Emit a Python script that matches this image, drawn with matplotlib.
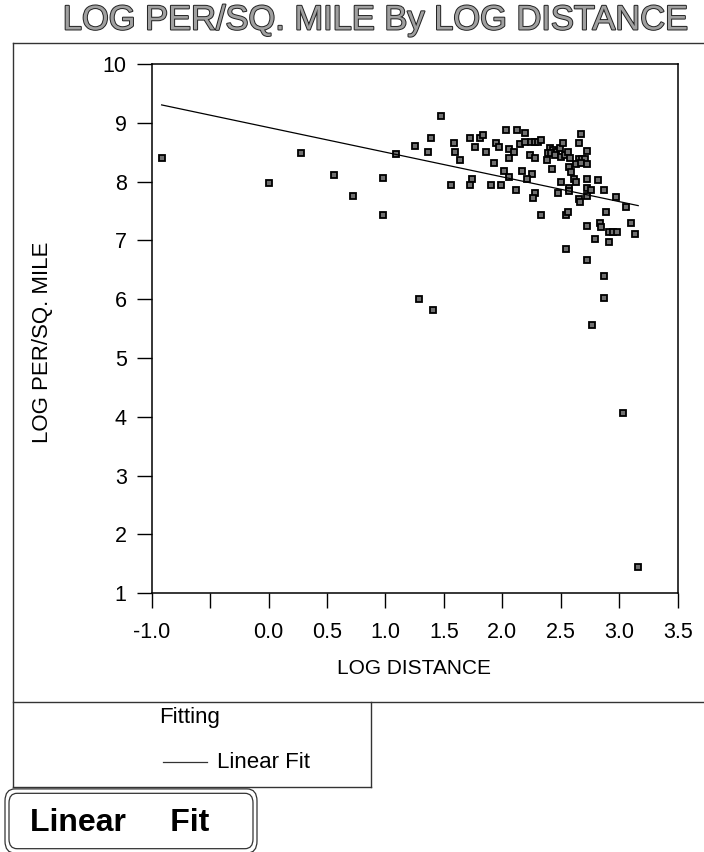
import matplotlib
matplotlib.use("Agg")
import matplotlib.pyplot as plt
import numpy as np
from matplotlib.lines import Line2D
from matplotlib.patches import FancyBboxPatch
import matplotlib.patheffects as pe

plt.rcParams['font.family'] = ['Liberation Sans', 'DejaVu Sans']

# ---------------- data ----------------
log_distance = [
    -0.915, 0.276, 0.005, 0.561, 0.718, 0.977, 0.977, 1.088, 1.250, 1.287,
    1.479, 1.387, 1.364, 1.586, 1.592, 1.635, 1.720, 1.806, 1.834, 1.769,
    1.857, 1.928, 1.949, 1.971, 2.034, 2.125, 2.191, 2.148, 2.191, 2.056,
    2.097, 2.056, 2.248, 2.276, 2.304, 2.333, 2.239, 2.282, 2.381, 2.404,
    2.433, 2.462, 2.490, 2.518, 2.390, 2.419, 2.447, 2.504, 2.538, 2.561,
    2.581, 2.675, 2.655, 2.726, 2.655, 2.684, 2.703, 2.626, 2.675, 2.723,
    2.567, 2.590, 2.427, 2.011, 2.056, 2.168, 2.256, 2.214, 1.744, 1.721,
    1.564, 1.900, 1.991, 2.120, 2.282, 2.262, 2.475, 2.504, 2.567, 2.567,
    2.609, 2.632, 2.723, 2.817, 2.723, 2.761, 2.723, 2.655, 2.661, 2.866,
    2.974, 3.060, 2.333, 2.547, 2.561, 2.889, 2.723, 2.832, 2.840, 2.909,
    2.945, 2.979, 3.103, 3.131, 2.795, 2.909, 2.541, 2.723, 2.866, 2.866,
    2.766, 1.407, 3.031, 3.162,
]
log_per_sq_mile = [
    8.41, 8.49, 7.98, 8.12, 7.75, 8.06, 7.43, 8.47, 8.61, 6.00,
    9.11, 8.74, 8.51, 8.66, 8.51, 8.37, 8.74, 8.74, 8.79, 8.59,
    8.51, 8.32, 8.65, 8.59, 8.87, 8.87, 8.82, 8.64, 8.68, 8.55,
    8.50, 8.41, 8.68, 8.68, 8.68, 8.71, 8.45, 8.40, 8.36, 8.58,
    8.54, 8.51, 8.57, 8.66, 8.49, 8.48, 8.45, 8.42, 8.45, 8.51,
    8.40, 8.81, 8.66, 8.52, 8.38, 8.38, 8.38, 8.30, 8.31, 8.30,
    8.25, 8.17, 8.21, 8.18, 8.08, 8.18, 8.13, 8.04, 8.04, 7.95,
    7.95, 7.95, 7.95, 7.86, 7.81, 7.73, 7.80, 7.99, 7.90, 7.84,
    8.04, 7.99, 8.04, 8.03, 7.89, 7.86, 7.76, 7.70, 7.66, 7.85,
    7.74, 7.57, 7.44, 7.44, 7.48, 7.48, 7.25, 7.29, 7.22, 7.15,
    7.15, 7.15, 7.29, 7.11, 7.02, 6.98, 6.85, 6.67, 6.39, 6.02,
    5.56, 5.82, 4.06, 1.44,
]
fit_intercept = 8.92
fit_slope = -0.42

xticks = [-1.0, -0.5, 0.0, 0.5, 1.0, 1.5, 2.0, 2.5, 3.0, 3.5]
xtick_labels = ['-1.0', '', '0.0', '0.5', '1.0', '1.5', '2.0', '2.5', '3.0', '3.5']
yticks = [1, 2, 3, 4, 5, 6, 7, 8, 9, 10]
ytick_labels = ['1', '2', '3', '4', '5', '6', '7', '8', '9', '10']

title = 'LOG PER/SQ. MILE By LOG DISTANCE'
xlabel = 'LOG DISTANCE'
ylabel = 'LOG PER/SQ. MILE'
legend_title = 'Fitting'
legend_entry = 'Linear Fit'
button_text = 'Linear     Fit'

# ---------------- layout ----------------
W, H = 704, 852
fig = plt.figure(figsize=(W / 100, H / 100), dpi=100)
fig.patch.set_facecolor('white')

def fx(px):
    return px / W

def fy(py):
    return 1 - py / H

ax = fig.add_axes([fx(151.7), fy(593.3), (677.7 - 151.7) / W, (593.3 - 64) / H])
ax.set_xlim(-1.0, 3.5)
ax.set_ylim(1, 10)

ax.plot(log_distance, log_per_sq_mile, linestyle='none', marker='s',
        markersize=4.0, markerfacecolor='#707070', markeredgecolor='black',
        markeredgewidth=1.3)

x_fit = np.array([min(log_distance), max(log_distance)])
ax.plot(x_fit, fit_intercept + fit_slope * x_fit, color='black', linewidth=0.9)

ax.set_xticks(xticks)
ax.set_xticklabels(xtick_labels)
ax.set_yticks(yticks)
ax.set_yticklabels(ytick_labels)
ax.tick_params(axis='both', direction='out', length=11, width=1.0,
               labelsize=15.5, colors='black')
ax.tick_params(axis='x', pad=10)
ax.tick_params(axis='y', pad=7)
for s in ax.spines.values():
    s.set_linewidth(1.1)
    s.set_color('black')

# axis labels
fig.text(fx(414), fy(668), xlabel, ha='center', va='center', fontsize=15)
fig.text(fx(43), fy(342), ylabel, ha='center', va='center', fontsize=16,
         rotation=90)

# title
t = fig.text(fx(376), fy(21), title, ha='center', va='center', fontsize=24.8,
             color='#a0a0a0')
t.set_path_effects([pe.Stroke(linewidth=1.4, foreground='#222222'), pe.Normal()])

# frame lines
lc = '#333333'
def fline(xs, ys, lw=1.0):
    fig.add_artist(Line2D([fx(v) for v in xs], [fy(v) for v in ys],
                          transform=fig.transFigure, color=lc, linewidth=lw))

fline([12.7, 704], [42.5, 42.5])
fline([12.7, 12.7], [42.5, 786.7])
fline([12.7, 704], [701.5, 701.5])
fline([371, 371], [701.5, 786.7])
fline([12.7, 371], [786.7, 786.7])

# legend contents
fig.text(fx(190), fy(718), legend_title, ha='center', va='center', fontsize=16)
fline([163, 207], [762, 762], lw=0.9)
fig.text(fx(217), fy(762), legend_entry, ha='left', va='center', fontsize=16)

# button box
for (x0, y0, x1, y1, r) in [(5, 791, 257, 851, 10), (9, 795, 253, 847, 8)]:
    box = FancyBboxPatch((fx(x0 + r), fy(y1 - r)), fx(x1 - x0 - 2 * r), (y1 - y0 - 2 * r) / H,
                         boxstyle=f'round,pad={r / W}', transform=fig.transFigure,
                         facecolor='none', edgecolor=lc, linewidth=0.9)
    fig.add_artist(box)
fig.text(fx(30), fy(823), button_text, ha='left', va='center', fontsize=23,
         fontweight='bold')

fig.savefig('out.png', dpi=100)
